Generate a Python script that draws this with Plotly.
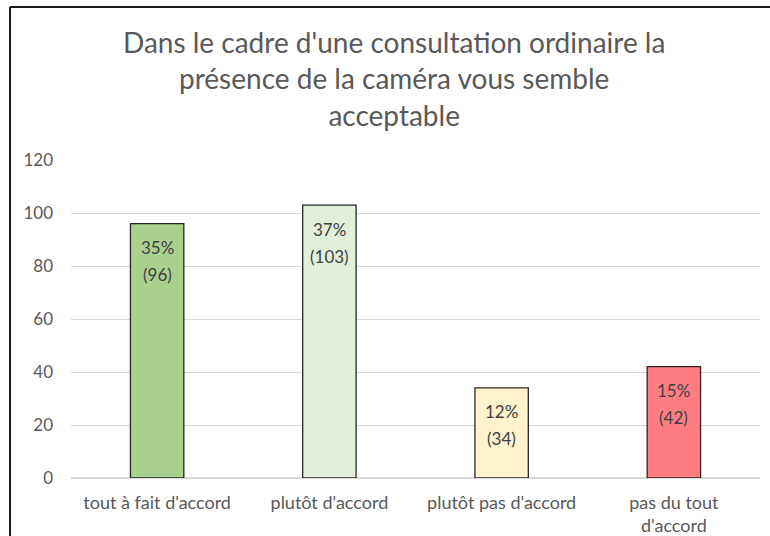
import plotly.graph_objects as go

# données du graphique
categories = ["tout à fait d'accord", "plutôt d'accord", "plutôt pas d'accord", "pas du tout<br>d'accord"]
effectifs = [96, 103, 34, 42]
pourcentages = ["35%", "37%", "12%", "15%"]
couleurs = ["#A9D18E", "#E2EFDA", "#FFF2CC", "#FF7C80"]
y_ticks = [0, 20, 40, 60, 80, 100, 120]

titre = "Dans le cadre d'une consultation ordinaire la<br>présence de la caméra vous semble<br>acceptable"

fig = go.Figure()
fig.add_trace(go.Bar(
    x=categories,
    y=effectifs,
    marker=dict(color=couleurs, line=dict(color="#262626", width=1.3)),
    width=0.31,
    hoverinfo="skip",
))

# étiquettes dans les barres : pourcentage puis effectif
for cat, n, p in zip(categories, effectifs, pourcentages):
    fig.add_annotation(x=cat, y=n, text=p, showarrow=False, yanchor="middle",
                       yshift=-24, font=dict(family="Lato", size=17, color="#404040"))
    fig.add_annotation(x=cat, y=n, text=f"({n})", showarrow=False, yanchor="middle",
                       yshift=-51, font=dict(family="Lato", size=17, color="#404040"))

# titre
fig.add_annotation(xref="paper", yref="paper", x=0.469, y=1.255, text=titre,
                   showarrow=False, xanchor="center", yanchor="middle",
                   font=dict(family="Lato", size=28, color="#595959"))

fig.update_layout(
    width=770,
    height=536,
    font=dict(family="Lato", color="#595959"),
    plot_bgcolor="white",
    paper_bgcolor="white",
    margin=dict(l=71, r=10, t=160, b=58, autoexpand=False),
    showlegend=False,
)
fig.update_xaxes(
    showgrid=False,
    showline=False,
    tickfont=dict(family="Lato", size=18, color="#595959"),
    ticks="",
    ticklabelstandoff=12,
    automargin=False,
)
fig.update_yaxes(
    range=[0, 120],
    tickvals=y_ticks,
    showgrid=True,
    gridcolor="#D9D9D9",
    gridwidth=1,
    zeroline=True,
    zerolinecolor="#D9D9D9",
    tickfont=dict(family="Lato", size=17, color="#595959"),
    ticklabelstandoff=17,
    automargin=False,
)

# cadre du graphique (bord gauche et haut)
fig.add_shape(type="line", xref="paper", yref="paper",
              x0=-0.0885, x1=1.02, y0=1.481, y1=1.481,
              line=dict(color="#1a1a1a", width=2))
fig.add_shape(type="line", xref="paper", yref="paper",
              x0=-0.0885, x1=-0.0885, y0=1.481, y1=-0.2,
              line=dict(color="#1a1a1a", width=2))

fig.write_html("out.html", config={"displayModeBar": False},
               post_script="document.body.style.margin='0';")
